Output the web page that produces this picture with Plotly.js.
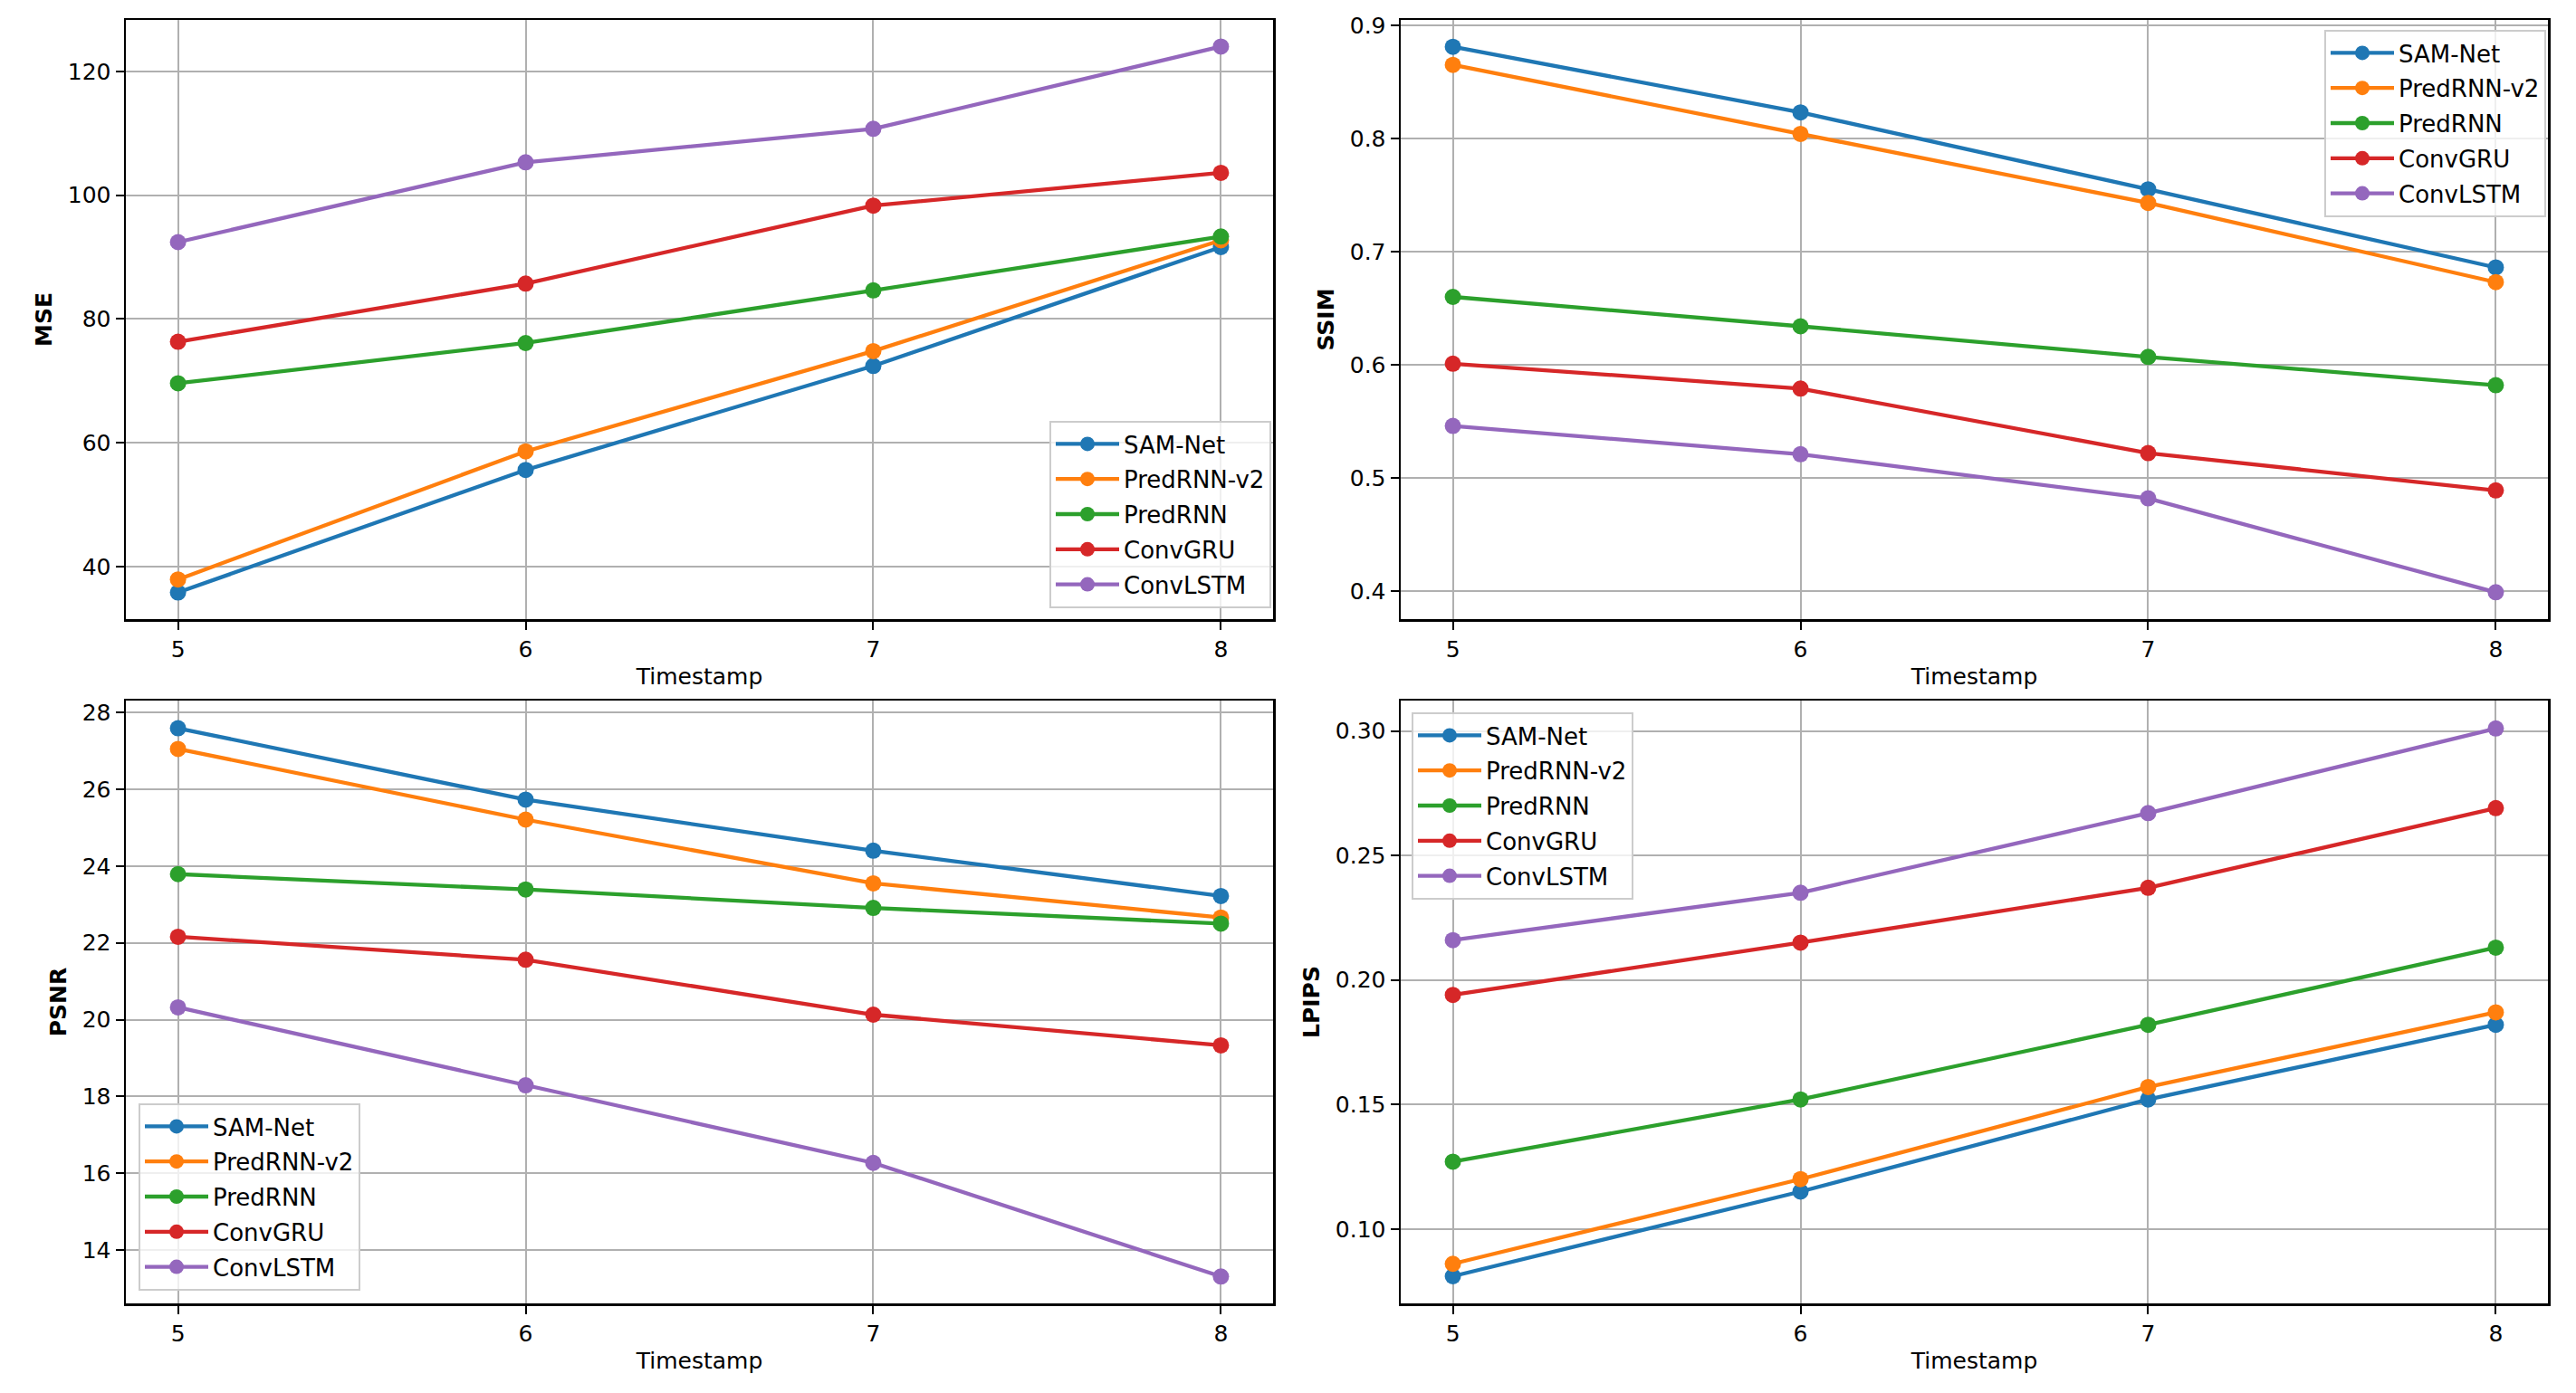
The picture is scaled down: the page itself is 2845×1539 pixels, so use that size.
<!DOCTYPE html>
<html>
<head>
<meta charset="utf-8">
<script src="https://cdn.plot.ly/plotly-3.0.1.min.js"></script>
<style>html,body{margin:0;padding:0;background:#fff;}#chart{width:2845px;height:1539px;}</style>
</head>
<body>
<div id="chart"></div>
<script>
// ---- data ----
const timestamps = [5, 6, 7, 8];
const models = ['SAM-Net', 'PredRNN-v2', 'PredRNN', 'ConvGRU', 'ConvLSTM'];
const colors = ['#1f77b4', '#ff7f0e', '#2ca02c', '#d62728', '#9467bd'];

const mseSamNet    = [35.8, 55.6, 72.4, 91.6];
const msePredRNNv2 = [37.9, 58.6, 74.8, 92.7];
const msePredRNN   = [69.6, 76.1, 84.6, 93.3];
const mseConvGRU   = [76.3, 85.7, 98.3, 103.6];
const mseConvLSTM  = [92.4, 105.3, 110.7, 124.0];

const ssimSamNet    = [0.881, 0.823, 0.755, 0.686];
const ssimPredRNNv2 = [0.865, 0.804, 0.743, 0.673];
const ssimPredRNN   = [0.660, 0.634, 0.607, 0.582];
const ssimConvGRU   = [0.601, 0.579, 0.522, 0.489];
const ssimConvLSTM  = [0.546, 0.521, 0.482, 0.399];

const psnrSamNet    = [27.59, 25.73, 24.40, 23.22];
const psnrPredRNNv2 = [27.05, 25.21, 23.55, 22.66];
const psnrPredRNN   = [23.79, 23.39, 22.91, 22.50];
const psnrConvGRU   = [22.16, 21.56, 20.13, 19.33];
const psnrConvLSTM  = [20.32, 18.29, 16.27, 13.31];

const lpipsSamNet    = [0.081, 0.115, 0.152, 0.182];
const lpipsPredRNNv2 = [0.086, 0.120, 0.157, 0.187];
const lpipsPredRNN   = [0.127, 0.152, 0.182, 0.213];
const lpipsConvGRU   = [0.194, 0.215, 0.237, 0.269];
const lpipsConvLSTM  = [0.216, 0.235, 0.267, 0.301];

const mseTicks = [40, 60, 80, 100, 120];
const ssimTicks = [0.4, 0.5, 0.6, 0.7, 0.8, 0.9];
const psnrTicks = [14, 16, 18, 20, 22, 24, 26, 28];
const lpipsTicks = [0.10, 0.15, 0.20, 0.25, 0.30];

// ---- build ----
const panels = [
  {series: [mseSamNet, msePredRNNv2, msePredRNN, mseConvGRU, mseConvLSTM], ax: '', legend: 'legend'},
  {series: [ssimSamNet, ssimPredRNNv2, ssimPredRNN, ssimConvGRU, ssimConvLSTM], ax: '2', legend: 'legend2'},
  {series: [psnrSamNet, psnrPredRNNv2, psnrPredRNN, psnrConvGRU, psnrConvLSTM], ax: '3', legend: 'legend3'},
  {series: [lpipsSamNet, lpipsPredRNNv2, lpipsPredRNN, lpipsConvGRU, lpipsConvLSTM], ax: '4', legend: 'legend4'}
];

const traces = [];
panels.forEach((p, k) => {
  p.series.forEach((vals, i) => {
    traces.push({
      x: timestamps, y: vals, name: models[i],
      type: 'scatter', mode: 'lines+markers',
      xaxis: 'x' + p.ax, yaxis: 'y' + p.ax,
      legend: p.legend, legendgroup: 'p' + k + '_' + i,
      line: {color: colors[i], width: 4.3},
      marker: {color: colors[i], size: 18},
      cliponaxis: false
    });
  });
});

const FONT = 'DejaVu Sans, sans-serif';
function xax(domain, anchor) {
  return {
    domain: domain, anchor: anchor, range: [4.85, 8.15],
    tickvals: timestamps, ticktext: timestamps.map(String),
    showline: true, mirror: true, linecolor: '#000', linewidth: 2.5,
    ticks: 'outside', ticklen: 9, tickwidth: 2, tickcolor: '#000',
    showgrid: true, gridcolor: '#b0b0b0', gridwidth: 2, zeroline: false,
    tickfont: {family: FONT, size: 25, color: '#000'},
    title: {text: 'Timestamp', standoff: 8, font: {family: FONT, size: 25, color: '#000'}},
    automargin: false
  };
}
function yax(domain, anchor, range, ticks, title, fmt) {
  return {
    domain: domain, anchor: anchor, range: range,
    tickvals: ticks, ticktext: ticks.map(v => fmt(v)),
    showline: true, mirror: true, linecolor: '#000', linewidth: 2.5,
    ticks: 'outside', ticklen: 9, tickwidth: 2, tickcolor: '#000',
    showgrid: true, gridcolor: '#b0b0b0', gridwidth: 2, zeroline: false,
    tickfont: {family: FONT, size: 25, color: '#000'},
    title: {text: '<b>' + title + '</b>', standoff: 10, font: {family: FONT, size: 25, color: '#000'}},
    automargin: false
  };
}
function leg(x, y, xa, ya) {
  return {
    x: x, y: y, xanchor: xa, yanchor: ya, xref: 'paper', yref: 'paper',
    bgcolor: 'rgba(255,255,255,0.8)', bordercolor: '#cccccc', borderwidth: 2,
    font: {family: FONT, size: 26, color: '#000'},
    itemwidth: 70, tracegroupgap: 2
  };
}

const W = 2845, H = 1539;
const dxL = [139 / W, 1406 / W], dxR = [1547 / W, 2814 / W];
const dyT = [1 - 684 / H, 1 - 22 / H], dyB = [1 - 1440 / H, 1 - 774 / H];

const layout = {
  width: W, height: H,
  margin: {l: 0, r: 0, t: 0, b: 0},
  paper_bgcolor: '#fff', plot_bgcolor: '#fff',
  font: {family: FONT, size: 25, color: '#000'},
  xaxis: xax(dxL, 'y'),
  yaxis: yax(dyT, 'x', [31.5, 128.3], mseTicks, 'MSE', v => String(v)),
  xaxis2: xax(dxR, 'y2'),
  yaxis2: yax(dyT, 'x2', [0.3753, 0.9047], ssimTicks, 'SSIM', v => v.toFixed(1)),
  xaxis3: xax(dxL, 'y3'),
  yaxis3: yax(dyB, 'x3', [12.61, 28.31], psnrTicks, 'PSNR', v => String(v)),
  xaxis4: xax(dxR, 'y4'),
  yaxis4: yax(dyB, 'x4', [0.0701, 0.3122], lpipsTicks, 'LPIPS', v => v.toFixed(2)),
  legend: leg(1404 / W, 1 - 672 / H, 'right', 'bottom'),
  legend2: leg(2812 / W, 1 - 33 / H, 'right', 'top'),
  legend3: leg(153 / W, 1 - 1426 / H, 'left', 'bottom'),
  legend4: leg(1559 / W, 1 - 787 / H, 'left', 'top'),
  showlegend: true
};

Plotly.newPlot('chart', traces, layout, {displayModeBar: false, staticPlot: true});
</script>
</body>
</html>
